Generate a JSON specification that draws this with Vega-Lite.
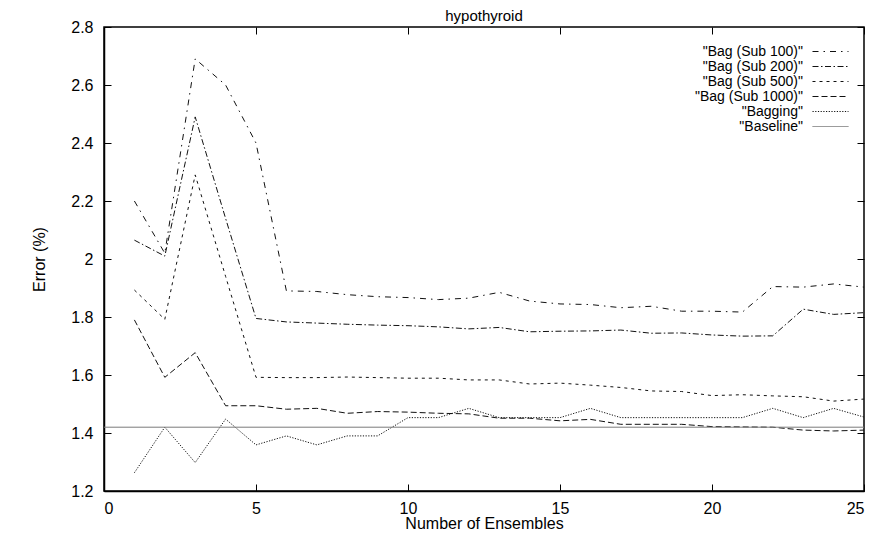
{
  "$schema": "https://vega.github.io/schema/vega-lite/v6.json",
  "width": 760,
  "height": 464,
  "autosize": {"type": "none"},
  "padding": {"left": 104, "top": 27, "right": 13, "bottom": 43},
  "background": "white",
  "title": {"text": "hypothyroid", "fontSize": 15, "font": "Liberation Sans", "fontWeight": "normal", "color": "black", "offset": -5, "frame": "group", "anchor": "middle"},
  "config": {
    "view": {"stroke": "black", "strokeWidth": 1.5},
    "axis": {"labelFont": "Liberation Sans", "titleFont": "Liberation Sans", "labelFontSize": 16, "titleFontSize": 16, "titleFontWeight": "normal", "labelColor": "black", "titleColor": "black", "domainColor": "black", "tickColor": "black", "grid": false, "tickSize": -7, "domainWidth": 1.5, "tickWidth": 1},
    "legend": {"orient": "none", "legendX": 719, "legendY": 17, "title": null, "symbolType": "M-2.57,0H2.57", "symbolSize": 196, "symbolStrokeWidth": 1, "labelAlign": "right", "labelOffset": -35, "labelFontSize": 14, "labelFont": "Liberation Sans", "labelColor": "black", "rowPadding": 0, "padding": 0, "symbolStrokeColor": "black", "symbolFillColor": "transparent"}
  },
  "data": {"values": [
    {"series": "Bag (Sub 100)", "n": 1, "err": 2.20},
    {"series": "Bag (Sub 100)", "n": 2, "err": 2.02},
    {"series": "Bag (Sub 100)", "n": 3, "err": 2.69},
    {"series": "Bag (Sub 100)", "n": 4, "err": 2.60},
    {"series": "Bag (Sub 100)", "n": 5, "err": 2.40},
    {"series": "Bag (Sub 100)", "n": 6, "err": 1.89},
    {"series": "Bag (Sub 100)", "n": 7, "err": 1.888},
    {"series": "Bag (Sub 100)", "n": 8, "err": 1.877},
    {"series": "Bag (Sub 100)", "n": 9, "err": 1.87},
    {"series": "Bag (Sub 100)", "n": 10, "err": 1.867},
    {"series": "Bag (Sub 100)", "n": 11, "err": 1.86},
    {"series": "Bag (Sub 100)", "n": 12, "err": 1.865},
    {"series": "Bag (Sub 100)", "n": 13, "err": 1.885},
    {"series": "Bag (Sub 100)", "n": 14, "err": 1.855},
    {"series": "Bag (Sub 100)", "n": 15, "err": 1.845},
    {"series": "Bag (Sub 100)", "n": 16, "err": 1.843},
    {"series": "Bag (Sub 100)", "n": 17, "err": 1.832},
    {"series": "Bag (Sub 100)", "n": 18, "err": 1.837},
    {"series": "Bag (Sub 100)", "n": 19, "err": 1.82},
    {"series": "Bag (Sub 100)", "n": 20, "err": 1.82},
    {"series": "Bag (Sub 100)", "n": 21, "err": 1.817},
    {"series": "Bag (Sub 100)", "n": 22, "err": 1.905},
    {"series": "Bag (Sub 100)", "n": 23, "err": 1.903},
    {"series": "Bag (Sub 100)", "n": 24, "err": 1.914},
    {"series": "Bag (Sub 100)", "n": 25, "err": 1.903},
    {"series": "Bag (Sub 200)", "n": 1, "err": 2.065},
    {"series": "Bag (Sub 200)", "n": 2, "err": 2.01},
    {"series": "Bag (Sub 200)", "n": 3, "err": 2.49},
    {"series": "Bag (Sub 200)", "n": 4, "err": 2.14},
    {"series": "Bag (Sub 200)", "n": 5, "err": 1.795},
    {"series": "Bag (Sub 200)", "n": 6, "err": 1.783},
    {"series": "Bag (Sub 200)", "n": 7, "err": 1.779},
    {"series": "Bag (Sub 200)", "n": 8, "err": 1.775},
    {"series": "Bag (Sub 200)", "n": 9, "err": 1.772},
    {"series": "Bag (Sub 200)", "n": 10, "err": 1.77},
    {"series": "Bag (Sub 200)", "n": 11, "err": 1.766},
    {"series": "Bag (Sub 200)", "n": 12, "err": 1.759},
    {"series": "Bag (Sub 200)", "n": 13, "err": 1.764},
    {"series": "Bag (Sub 200)", "n": 14, "err": 1.749},
    {"series": "Bag (Sub 200)", "n": 15, "err": 1.751},
    {"series": "Bag (Sub 200)", "n": 16, "err": 1.752},
    {"series": "Bag (Sub 200)", "n": 17, "err": 1.755},
    {"series": "Bag (Sub 200)", "n": 18, "err": 1.744},
    {"series": "Bag (Sub 200)", "n": 19, "err": 1.745},
    {"series": "Bag (Sub 200)", "n": 20, "err": 1.738},
    {"series": "Bag (Sub 200)", "n": 21, "err": 1.734},
    {"series": "Bag (Sub 200)", "n": 22, "err": 1.735},
    {"series": "Bag (Sub 200)", "n": 23, "err": 1.827},
    {"series": "Bag (Sub 200)", "n": 24, "err": 1.809},
    {"series": "Bag (Sub 200)", "n": 25, "err": 1.815},
    {"series": "Bag (Sub 500)", "n": 1, "err": 1.893},
    {"series": "Bag (Sub 500)", "n": 2, "err": 1.792},
    {"series": "Bag (Sub 500)", "n": 3, "err": 2.29},
    {"series": "Bag (Sub 500)", "n": 4, "err": 1.94},
    {"series": "Bag (Sub 500)", "n": 5, "err": 1.592},
    {"series": "Bag (Sub 500)", "n": 6, "err": 1.591},
    {"series": "Bag (Sub 500)", "n": 7, "err": 1.591},
    {"series": "Bag (Sub 500)", "n": 8, "err": 1.593},
    {"series": "Bag (Sub 500)", "n": 9, "err": 1.591},
    {"series": "Bag (Sub 500)", "n": 10, "err": 1.589},
    {"series": "Bag (Sub 500)", "n": 11, "err": 1.589},
    {"series": "Bag (Sub 500)", "n": 12, "err": 1.583},
    {"series": "Bag (Sub 500)", "n": 13, "err": 1.583},
    {"series": "Bag (Sub 500)", "n": 14, "err": 1.569},
    {"series": "Bag (Sub 500)", "n": 15, "err": 1.572},
    {"series": "Bag (Sub 500)", "n": 16, "err": 1.565},
    {"series": "Bag (Sub 500)", "n": 17, "err": 1.557},
    {"series": "Bag (Sub 500)", "n": 18, "err": 1.545},
    {"series": "Bag (Sub 500)", "n": 19, "err": 1.543},
    {"series": "Bag (Sub 500)", "n": 20, "err": 1.529},
    {"series": "Bag (Sub 500)", "n": 21, "err": 1.532},
    {"series": "Bag (Sub 500)", "n": 22, "err": 1.528},
    {"series": "Bag (Sub 500)", "n": 23, "err": 1.525},
    {"series": "Bag (Sub 500)", "n": 24, "err": 1.51},
    {"series": "Bag (Sub 500)", "n": 25, "err": 1.517},
    {"series": "Bag (Sub 1000)", "n": 1, "err": 1.79},
    {"series": "Bag (Sub 1000)", "n": 2, "err": 1.592},
    {"series": "Bag (Sub 1000)", "n": 3, "err": 1.677},
    {"series": "Bag (Sub 1000)", "n": 4, "err": 1.494},
    {"series": "Bag (Sub 1000)", "n": 5, "err": 1.494},
    {"series": "Bag (Sub 1000)", "n": 6, "err": 1.482},
    {"series": "Bag (Sub 1000)", "n": 7, "err": 1.485},
    {"series": "Bag (Sub 1000)", "n": 8, "err": 1.468},
    {"series": "Bag (Sub 1000)", "n": 9, "err": 1.474},
    {"series": "Bag (Sub 1000)", "n": 10, "err": 1.472},
    {"series": "Bag (Sub 1000)", "n": 11, "err": 1.468},
    {"series": "Bag (Sub 1000)", "n": 12, "err": 1.466},
    {"series": "Bag (Sub 1000)", "n": 13, "err": 1.451},
    {"series": "Bag (Sub 1000)", "n": 14, "err": 1.451},
    {"series": "Bag (Sub 1000)", "n": 15, "err": 1.442},
    {"series": "Bag (Sub 1000)", "n": 16, "err": 1.447},
    {"series": "Bag (Sub 1000)", "n": 17, "err": 1.43},
    {"series": "Bag (Sub 1000)", "n": 18, "err": 1.43},
    {"series": "Bag (Sub 1000)", "n": 19, "err": 1.43},
    {"series": "Bag (Sub 1000)", "n": 20, "err": 1.422},
    {"series": "Bag (Sub 1000)", "n": 21, "err": 1.421},
    {"series": "Bag (Sub 1000)", "n": 22, "err": 1.42},
    {"series": "Bag (Sub 1000)", "n": 23, "err": 1.41},
    {"series": "Bag (Sub 1000)", "n": 24, "err": 1.407},
    {"series": "Bag (Sub 1000)", "n": 25, "err": 1.41},
    {"series": "Bagging", "n": 1, "err": 1.263},
    {"series": "Bagging", "n": 2, "err": 1.42},
    {"series": "Bagging", "n": 3, "err": 1.298},
    {"series": "Bagging", "n": 4, "err": 1.448},
    {"series": "Bagging", "n": 5, "err": 1.359},
    {"series": "Bagging", "n": 6, "err": 1.39},
    {"series": "Bagging", "n": 7, "err": 1.359},
    {"series": "Bagging", "n": 8, "err": 1.39},
    {"series": "Bagging", "n": 9, "err": 1.39},
    {"series": "Bagging", "n": 10, "err": 1.453},
    {"series": "Bagging", "n": 11, "err": 1.453},
    {"series": "Bagging", "n": 12, "err": 1.485},
    {"series": "Bagging", "n": 13, "err": 1.453},
    {"series": "Bagging", "n": 14, "err": 1.453},
    {"series": "Bagging", "n": 15, "err": 1.453},
    {"series": "Bagging", "n": 16, "err": 1.485},
    {"series": "Bagging", "n": 17, "err": 1.453},
    {"series": "Bagging", "n": 18, "err": 1.453},
    {"series": "Bagging", "n": 19, "err": 1.453},
    {"series": "Bagging", "n": 20, "err": 1.453},
    {"series": "Bagging", "n": 21, "err": 1.453},
    {"series": "Bagging", "n": 22, "err": 1.485},
    {"series": "Bagging", "n": 23, "err": 1.453},
    {"series": "Bagging", "n": 24, "err": 1.485},
    {"series": "Bagging", "n": 25, "err": 1.455},
    {"series": "Baseline", "n": 0, "err": 1.42},
    {"series": "Baseline", "n": 25, "err": 1.42}
  ]},
  "layer": [
    {
      "mark": {"type": "line", "strokeWidth": 1},
      "encoding": {
        "x": {"field": "n", "type": "quantitative", "scale": {"domain": [0, 25], "nice": false, "zero": false},
              "axis": {"title": "Number of Ensembles", "values": [0, 5, 10, 15, 20, 25], "labelPadding": 16, "titlePadding": -1, "format": "d"}},
        "y": {"field": "err", "type": "quantitative", "scale": {"domain": [1.2, 2.8], "nice": false, "zero": false},
              "axis": {"title": "Error (%)", "values": [1.2, 1.4, 1.6, 1.8, 2.0, 2.2, 2.4, 2.6, 2.8], "format": "~g", "labelPadding": 18, "titlePadding": 23}},
        "color": {"field": "series", "type": "nominal",
                  "scale": {"domain": ["Bag (Sub 100)", "Bag (Sub 200)", "Bag (Sub 500)", "Bag (Sub 1000)", "Bagging", "Baseline"],
                            "range": ["#111111", "#111111", "#111111", "#111111", "#111111", "#7a7a7a"]},
                  "legend": {"labelExpr": "'\"' + datum.label + '\"'"}},
        "strokeDash": {"field": "series", "type": "nominal",
                  "scale": {"domain": ["Bag (Sub 100)", "Bag (Sub 200)", "Bag (Sub 500)", "Bag (Sub 1000)", "Bagging", "Baseline"],
                            "range": [[6, 5, 1.5, 5], [6, 2.5, 1.5, 2.5], [3, 4], [6, 3], [1.2, 1.5], [1, 0]]},
                  "legend": {"labelExpr": "'\"' + datum.label + '\"'"}}
      }
    },
    {
      "transform": [{"filter": "datum.series === 'Baseline'"}],
      "mark": {"type": "line", "opacity": 0},
      "encoding": {
        "x": {"field": "n", "type": "quantitative", "axis": {"orient": "top", "labels": false, "title": null, "domain": false, "values": [0, 5, 10, 15, 20, 25]}},
        "y": {"field": "err", "type": "quantitative", "axis": {"orient": "right", "labels": false, "title": null, "domain": false, "values": [1.2, 1.4, 1.6, 1.8, 2.0, 2.2, 2.4, 2.6, 2.8]}}
      }
    }
  ],
  "resolve": {"axis": {"x": "independent", "y": "independent"}}
}
